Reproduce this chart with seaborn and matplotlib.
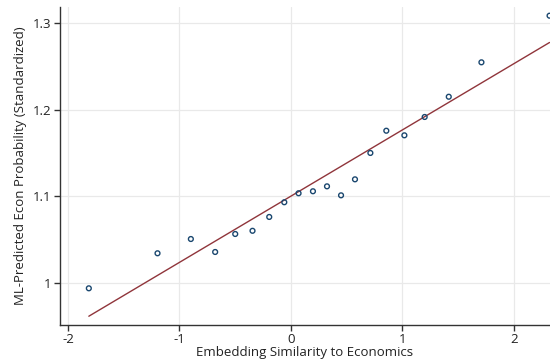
import numpy as np
import pandas as pd
import matplotlib
matplotlib.use("Agg")
import matplotlib.pyplot as plt
import seaborn as sns

# Binned scatter data
x_vals = [-1.813, -1.197, -0.898, -0.680, -0.500, -0.345, -0.195, -0.060, 0.068, 0.197,
          0.323, 0.449, 0.574, 0.712, 0.855, 1.017, 1.199, 1.415, 1.708, 2.319]
y_vals = [0.9935, 1.034, 1.0505, 1.0355, 1.0563, 1.060, 1.076, 1.093, 1.1034, 1.1057,
          1.1114, 1.101, 1.1195, 1.150, 1.1757, 1.1704, 1.1916, 1.215, 1.2548, 1.3087]

# Linear fit line (intercept, slope)
fit_intercept = 1.1001
fit_slope = 0.0766

x_ticks = [-2, -1, 0, 1, 2]
y_ticks = [1.0, 1.1, 1.2, 1.3]
y_ticklabels = ["1", "1.1", "1.2", "1.3"]

x_label = "Embedding Similarity to Economics"
y_label = "ML-Predicted Econ Probability (Standardized)"

sns.set_theme(style="white")
plt.rcParams["font.family"] = ["Open Sans", "DejaVu Sans"]

df = pd.DataFrame({"x": x_vals, "y": y_vals})
fit_x = [min(x_vals), max(x_vals)]
fit_df = pd.DataFrame({"x": fit_x, "y": [fit_intercept + fit_slope * v for v in fit_x]})

fig = plt.figure(figsize=(5.5, 3.62), dpi=100)
ax = fig.add_axes([0.109, 0.103, 0.891, 0.878])

ax.set_axisbelow(True)
ax.grid(True, color="#e9e9e9", linewidth=0.9)

sns.lineplot(data=fit_df, x="x", y="y", ax=ax, color="#90353b", linewidth=1.0, zorder=2)
sns.scatterplot(data=df, x="x", y="y", ax=ax, marker="o", s=12, facecolor="none",
                edgecolor="#1a476f", linewidth=1.0, zorder=3, clip_on=False)

ax.set_xlim(-2.072, 2.323)
ax.set_ylim(0.9514, 1.3189)
ax.set_xticks(x_ticks)
ax.set_xticklabels([str(t) for t in x_ticks])
ax.set_yticks(y_ticks)
ax.set_yticklabels(y_ticklabels)

for side in ["top", "right"]:
    ax.spines[side].set_visible(False)
for side in ["left", "bottom"]:
    ax.spines[side].set_color("#333333")
    ax.spines[side].set_linewidth(1.0)

ax.tick_params(axis="both", which="both", direction="out", length=4, width=1.0,
               color="#333333", labelsize=9.5, labelcolor="#222222", pad=2,
               left=True, bottom=True)

ax.set_xlabel(x_label, fontsize=9.5, color="#222222", labelpad=0)
ax.set_ylabel(y_label, fontsize=9.5, color="#222222", labelpad=4)

fig.savefig("out.png", dpi=100)
